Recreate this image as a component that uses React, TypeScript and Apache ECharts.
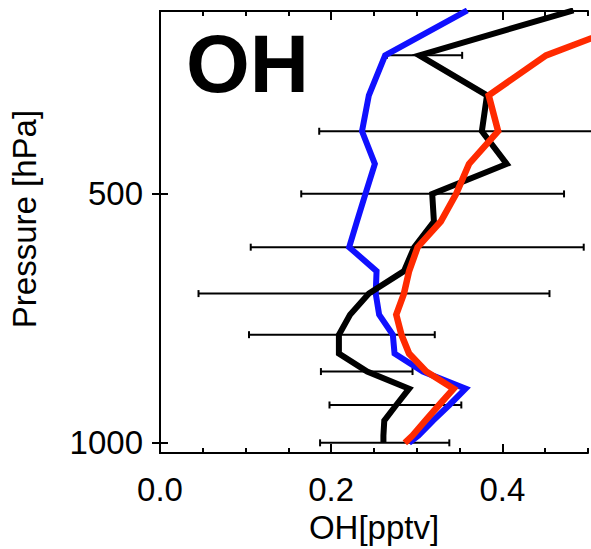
import React, { useEffect, useRef } from 'react';
import * as echarts from 'echarts';

// Pressure levels (hPa) of the vertical profiles
const pressure = [300, 340, 380, 420, 460, 500, 540, 580, 620, 660, 700, 740, 780, 820, 860, 900, 940, 980, 1000];
// Observed OH (black)
const obsOH = [0.483, 0.303, 0.382, 0.376, 0.405, 0.318, 0.320, 0.297, 0.285, 0.244, 0.222, 0.209, 0.209, 0.242, 0.291, 0.276, 0.262, 0.261, 0.261];
// Model A OH (blue)
const modelA_OH = [0.359, 0.263, 0.244, 0.236, 0.251, 0.240, 0.230, 0.221, 0.253, 0.252, 0.256, 0.272, 0.274, 0.307, 0.357, 0.338, 0.319, 0.302, 0.291];
// Model B OH (red)
const modelB_OH = [0.59, 0.451, 0.384, 0.395, 0.361, 0.346, 0.328, 0.301, 0.291, 0.285, 0.276, 0.282, 0.291, 0.311, 0.343, 0.326, 0.310, 0.295, 0.286];
// Error bars of the observations
const errPressure = [340, 420, 500, 580, 660, 740, 820, 900, 1000];
const errLow = [0.265, 0.186, 0.165, 0.106, 0.045, 0.104, 0.188, 0.198, 0.187];
const errHigh = [0.353, 0.565, 0.472, 0.495, 0.455, 0.321, 0.295, 0.352, 0.338];
// Axis ticks
const yTickPressures = [500, 1000];
const xMajorTicks = [0.0, 0.2, 0.4];

const FONT = "'Liberation Sans', Arial, Helvetica, sans-serif";

export default function App() {
  const ref = useRef<HTMLDivElement>(null);
  useEffect(() => {
    if (!ref.current) return;
    const chart = echarts.init(ref.current, null, { renderer: 'svg' });
    const lg = (p: number) => Math.log10(p);
    const yMin = lg(300.5);
    const yMax = lg(1029);
    const isMajor = (v: number) => xMajorTicks.some((m) => Math.abs(v - m) < 1e-6);
    const toSeries = (vals: number[]) => vals.map((v, i) => [v, lg(pressure[i])]);
    const errData = errPressure.map((p, i) => [errLow[i], errHigh[i], lg(p)]);
    const axisLineStyle = { color: '#000', width: 2 };
    const xBase = { type: 'value', min: 0, max: 0.5, splitLine: { show: false } };
    const yTicks = yTickPressures.map(lg);
    const yBase = { type: 'value', inverse: true, min: yMin, max: yMax, splitLine: { show: false } };

    const option: any = {
      animation: false,
      grid: { left: 160, top: 11, right: -3.5, bottom: 95.7 },
      xAxis: [
        {
          ...xBase,
          position: 'bottom',
          interval: 0.05,
          axisLine: { show: true, lineStyle: axisLineStyle },
          axisTick: { show: true, inside: true, length: 5, lineStyle: axisLineStyle },
          axisLabel: {
            formatter: (v: number) => (isMajor(v) ? v.toFixed(1) : ''),
            margin: 20,
            color: '#000',
            fontSize: 33,
            fontFamily: FONT,
          },
          name: 'OH[pptv]',
          nameLocation: 'middle',
          nameGap: 56,
          nameTextStyle: { color: '#000', fontSize: 33, fontFamily: FONT },
        },
        {
          ...xBase,
          position: 'bottom',
          axisLine: { show: false },
          axisTick: { show: true, inside: true, length: 9, lineStyle: axisLineStyle, customValues: xMajorTicks },
          axisLabel: { show: false },
        },
        {
          ...xBase,
          position: 'top',
          interval: 0.05,
          axisLine: { show: true, lineStyle: axisLineStyle },
          axisTick: { show: true, inside: true, length: 5, lineStyle: axisLineStyle },
          axisLabel: { show: false },
        },
        {
          ...xBase,
          position: 'top',
          axisLine: { show: false },
          axisTick: { show: true, inside: true, length: 9, lineStyle: axisLineStyle, customValues: xMajorTicks },
          axisLabel: { show: false },
        },
      ],
      yAxis: [
        {
          ...yBase,
          position: 'left',
          axisLine: { show: true, lineStyle: axisLineStyle },
          axisTick: { show: true, inside: true, length: 8, lineStyle: axisLineStyle, customValues: yTicks },
          axisLabel: {
            customValues: yTicks,
            formatter: (v: number) => String(Math.round(Math.pow(10, v))),
            margin: 17,
            color: '#000',
            fontSize: 33,
            fontFamily: FONT,
          },
        },
        {
          ...yBase,
          position: 'right',
          axisLine: { show: true, lineStyle: axisLineStyle },
          axisTick: { show: true, inside: true, length: 8, lineStyle: axisLineStyle, customValues: yTicks },
          axisLabel: { show: false },
        },
      ],
      graphic: [
        {
          type: 'text',
          x: 186,
          y: 63,
          style: {
            text: 'OH',
            fontSize: 82,
            fontWeight: 'bold',
            fontFamily: FONT,
            fill: '#000',
            textAlign: 'left',
            textVerticalAlign: 'middle',
          },
        },
        {
          type: 'text',
          x: 24,
          y: 219,
          rotation: Math.PI / 2,
          style: {
            text: 'Pressure [hPa]',
            fontSize: 33,
            fontFamily: FONT,
            fill: '#000',
            textAlign: 'center',
            textVerticalAlign: 'middle',
          },
        },
      ],
      series: [
        {
          type: 'custom',
          xAxisIndex: 0,
          yAxisIndex: 0,
          encode: { x: [0, 1], y: 2 },
          data: errData,
          renderItem: (params: any, api: any) => {
            const lo = api.coord([api.value(0), api.value(2)]);
            const hi = api.coord([api.value(1), api.value(2)]);
            const cap = 3.5;
            const st = { stroke: '#000', lineWidth: 2 };
            return {
              type: 'group',
              children: [
                { type: 'line', shape: { x1: lo[0], y1: lo[1], x2: hi[0], y2: hi[1] }, style: st },
                { type: 'line', shape: { x1: lo[0], y1: lo[1] - cap, x2: lo[0], y2: lo[1] + cap }, style: st },
                { type: 'line', shape: { x1: hi[0], y1: hi[1] - cap, x2: hi[0], y2: hi[1] + cap }, style: st },
              ],
            };
          },
        },
        {
          type: 'line',
          data: toSeries(modelA_OH),
          symbol: 'none',
          lineStyle: { color: '#1010ff', width: 6, join: 'miter', miterLimit: 10 },
        },
        {
          type: 'line',
          data: toSeries(obsOH),
          symbol: 'none',
          lineStyle: { color: '#000', width: 6, join: 'miter', miterLimit: 10 },
        },
        {
          type: 'line',
          data: toSeries(modelB_OH),
          symbol: 'none',
          lineStyle: { color: '#ff2a00', width: 6.5, join: 'miter', miterLimit: 10 },
        },
      ],
    };
    chart.setOption(option);
    return () => chart.dispose();
  }, []);

  return (
    <div
      ref={ref}
      style={{ position: 'fixed', left: 0, top: 0, width: 591, height: 549, background: '#fff' }}
    />
  );
}
